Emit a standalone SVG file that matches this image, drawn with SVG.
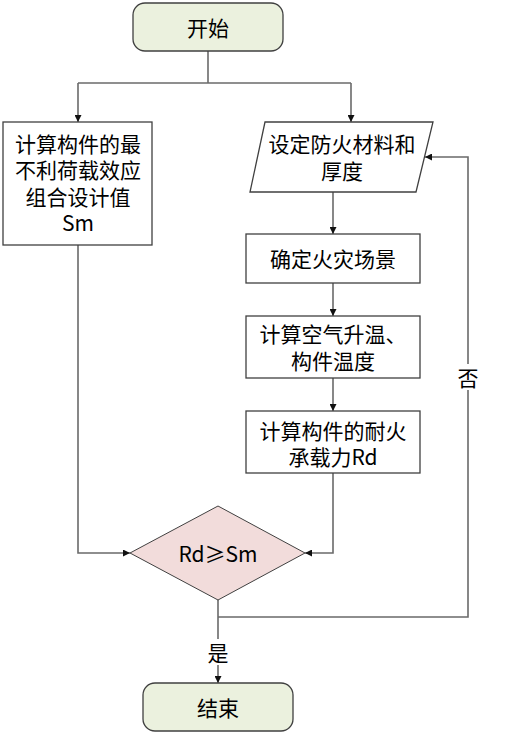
<svg xmlns="http://www.w3.org/2000/svg" width="526" height="734" viewBox="0 0 526 734">
<style>
text{font-family:"Noto Sans CJK SC","Liberation Sans",sans-serif;font-size:21px;fill:#000;text-anchor:middle;dominant-baseline:central}
.box{fill:#fff;stroke:#404040;stroke-width:1.3}
.term{fill:#ebf1de;stroke:#404040;stroke-width:1.3}
.dec{fill:#f2dcdb;stroke:#404040;stroke-width:1}
.c{fill:none;stroke:#6a6a6a;stroke-width:1.6}
</style>
<defs>
<marker id="a" viewBox="0 0 10 10" refX="10" refY="5" markerWidth="7" markerHeight="7" markerUnits="userSpaceOnUse" orient="auto"><path d="M0,0 L10,5 L0,10 z" fill="#111"/></marker>
</defs>
<rect width="526" height="734" fill="#fff"/>
<g id="connectors">
<path class="c" d="M208,51 V83"/>
<path class="c" d="M78,83 H351"/>
<path class="c" d="M78,83 V122" marker-end="url(#a)"/>
<path class="c" d="M351,83 V122" marker-end="url(#a)"/>
<path class="c" d="M333,192 V234" marker-end="url(#a)"/>
<path class="c" d="M333,283 V316" marker-end="url(#a)"/>
<path class="c" d="M333,378 V411" marker-end="url(#a)"/>
<path class="c" d="M333,473 V553 H305" marker-end="url(#a)"/>
<path class="c" d="M78,245 V553 H130" marker-end="url(#a)"/>
<path class="c" d="M218,600 V683" marker-end="url(#a)"/>
<path class="c" d="M218,617 H468 V157 H425" marker-end="url(#a)"/>
<rect x="457" y="364" width="22" height="26" fill="#fff"/>
<text x="468" y="377">否</text>
<rect x="207" y="639" width="22" height="26" fill="#fff"/>
<text x="218" y="652">是</text>
</g>
<g id="start">
<rect class="term" x="133" y="3" width="150" height="48" rx="12"/>
<text x="208" y="27">开始</text>
</g>
<g id="calc-sm">
<rect class="box" x="3" y="122" width="149" height="123"/>
<text x="78" y="143"><tspan x="78" y="143">计算构件的最</tspan><tspan x="78" y="169">不利荷载效应</tspan><tspan x="78" y="196">组合设计值</tspan><tspan x="78" y="222">Sm</tspan></text>
</g>
<g id="set-material">
<polygon class="box" points="265,122 433,122 416,192 250,192"/>
<text x="342" y="143"><tspan x="342" y="143">设定防火材料和</tspan><tspan x="342" y="170">厚度</tspan></text>
</g>
<g id="fire-scene">
<rect class="box" x="246" y="234" width="174" height="49"/>
<text x="333" y="258">确定火灾场景</text>
</g>
<g id="temp">
<rect class="box" x="246" y="316" width="174" height="62"/>
<text x="333" y="333"><tspan x="333" y="333">计算空气升温、</tspan><tspan x="333" y="360">构件温度</tspan></text>
</g>
<g id="capacity">
<rect class="box" x="246" y="411" width="174" height="62"/>
<text x="333" y="430"><tspan x="333" y="430">计算构件的耐火</tspan><tspan x="333" y="456">承载力Rd</tspan></text>
</g>
<g id="decision">
<polygon class="dec" points="218,506 305,553 218,600 130,553"/>
<text x="218" y="553">Rd≥Sm</text>
</g>
<g id="end">
<rect class="term" x="143" y="683" width="150" height="48" rx="12"/>
<text x="218" y="707">结束</text>
</g>
</svg>
